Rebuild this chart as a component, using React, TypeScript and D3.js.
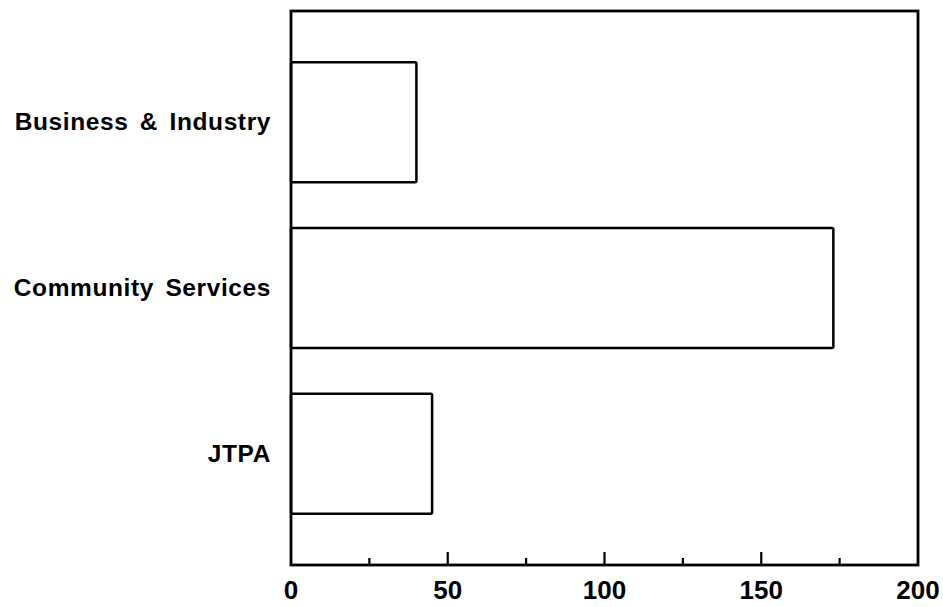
import React from "react";
import * as d3 from "d3";

const categories = ["Business & Industry", "Community Services", "JTPA"];
const values = [40, 173, 45];
const majorTicks = [0, 50, 100, 150, 200];
const minorTicks = [25, 75, 125, 175];

const W = 943;
const H = 607;
const left = 291;
const right = 918;
const top = 11;
const bottom = 565;

export default function App() {
  const x = d3.scaleLinear().domain([0, 200]).range([left, right]);
  const y = d3
    .scaleBand<string>()
    .domain(categories)
    .range([top, bottom])
    .paddingInner(0.277)
    .paddingOuter(0.31);

  const font = "'Liberation Sans', Arial, sans-serif";

  return (
    <svg
      width={W}
      height={H}
      style={{ position: "absolute", left: 0, top: 0, background: "#fff" }}
    >
      {categories.map((c, i) => (
        <rect
          key={c}
          x={x(0)}
          y={y(c)!}
          width={x(values[i]) - x(0)}
          height={y.bandwidth()}
          fill="none"
          stroke="#000"
          strokeWidth={2.5}
          rx={1.5}
        />
      ))}
      <rect
        x={left}
        y={top}
        width={right - left}
        height={bottom - top}
        fill="none"
        stroke="#000"
        strokeWidth={2.8}
      />
      {majorTicks.slice(1, -1).map((t) => (
        <line
          key={"M" + t}
          x1={x(t)}
          x2={x(t)}
          y1={bottom}
          y2={bottom - 13}
          stroke="#000"
          strokeWidth={2.2}
        />
      ))}
      {minorTicks.map((t) => (
        <line
          key={"m" + t}
          x1={x(t)}
          x2={x(t)}
          y1={bottom}
          y2={bottom - 7}
          stroke="#000"
          strokeWidth={2.2}
        />
      ))}
      {majorTicks.map((t) => (
        <text
          key={"l" + t}
          x={x(t)}
          y={599}
          textAnchor="middle"
          fontFamily={font}
          fontWeight="bold"
          fontSize={26}
          fill="#000"
        >
          {t}
        </text>
      ))}
      {categories.map((c) => (
        <text
          key={"c" + c}
          x={271}
          y={y(c)! + y.bandwidth() / 2 + 8}
          textAnchor="end"
          fontFamily={font}
          fontWeight="bold"
          fontSize={24.5}
          letterSpacing={0.6}
          wordSpacing={4}
          fill="#000"
        >
          {c}
        </text>
      ))}
    </svg>
  );
}
